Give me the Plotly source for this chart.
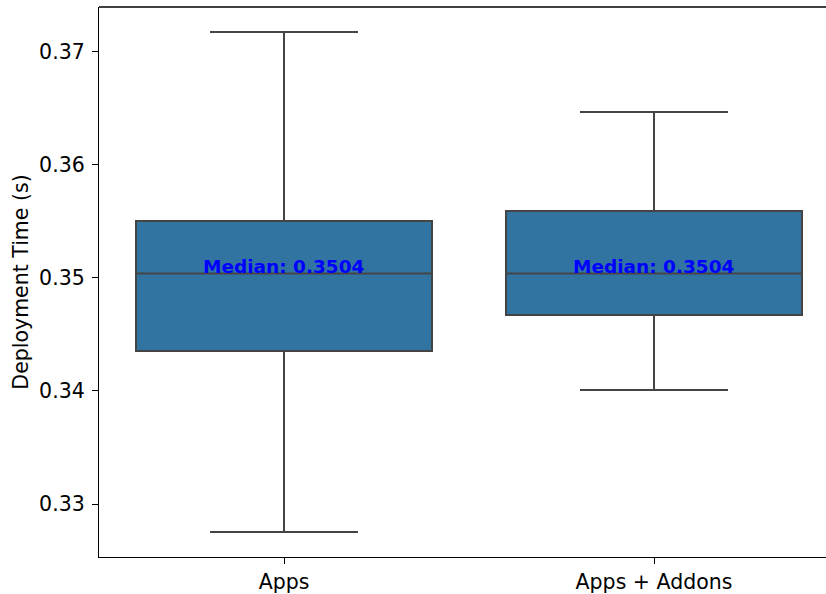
import plotly.graph_objects as go

# Box statistics for each deployment configuration (seconds)
categories = ["Apps", "Apps + Addons"]
lower_whisker = [0.32752, 0.34009]
q1_values = [0.34354, 0.34673]
medians = [0.3504, 0.3504]
q3_values = [0.35504, 0.35593]
upper_whisker = [0.37177, 0.36469]
y_ticks = [0.33, 0.34, 0.35, 0.36, 0.37]

FILL = "#3274a1"
EDGE = "#444444"
FONT = "DejaVu Sans"

fig = go.Figure()
fig.add_trace(go.Box(
    x=[0, 1],
    q1=q1_values,
    median=medians,
    q3=q3_values,
    lowerfence=lower_whisker,
    upperfence=upper_whisker,
    width=0.8,
    whiskerwidth=0.5,
    fillcolor=FILL,
    line=dict(color=EDGE, width=2),
    boxpoints=False,
    showlegend=False,
    hoverinfo="skip",
))

for i, m in enumerate(medians):
    fig.add_annotation(
        x=i, y=m, xref="x", yref="y",
        text=f"<b>Median: {m:.4f}</b>",
        showarrow=False, yanchor="bottom", xanchor="center",
        yshift=-6,
        font=dict(family=FONT, size=18.5, color="blue"),
    )

# top spine (no right spine: the axes run past the right edge)
fig.add_shape(type="line", xref="paper", yref="paper",
              x0=0, x1=1, y0=1, y1=1, line=dict(color="black", width=1.3))

fig.update_layout(
    width=826, height=594,
    margin=dict(l=99, r=0, t=7, b=37),
    plot_bgcolor="white", paper_bgcolor="white",
    font=dict(family=FONT, size=20.5, color="black"),
    xaxis=dict(
        range=[-0.5, -0.5 + 727 / 370],
        tickmode="array", tickvals=[0, 1], ticktext=categories,
        showline=True, linecolor="black", linewidth=1.3,
        ticks="outside", ticklen=6, tickwidth=1.3, tickcolor="black",
        showgrid=False, zeroline=False,
    ),
    yaxis=dict(
        range=[0.32531, 0.37398],
        tickmode="array", tickvals=y_ticks,
        ticktext=[f"{v:.2f}" for v in y_ticks],
        showline=True, linecolor="black", linewidth=1.3,
        ticks="outside", ticklen=6, tickwidth=1.3, tickcolor="black",
        ticklabelstandoff=3,
        showgrid=False, zeroline=False,
        title=dict(text="Deployment Time (s)", font=dict(size=20.5), standoff=4),
    ),
)

fig.write_html("out.html")
